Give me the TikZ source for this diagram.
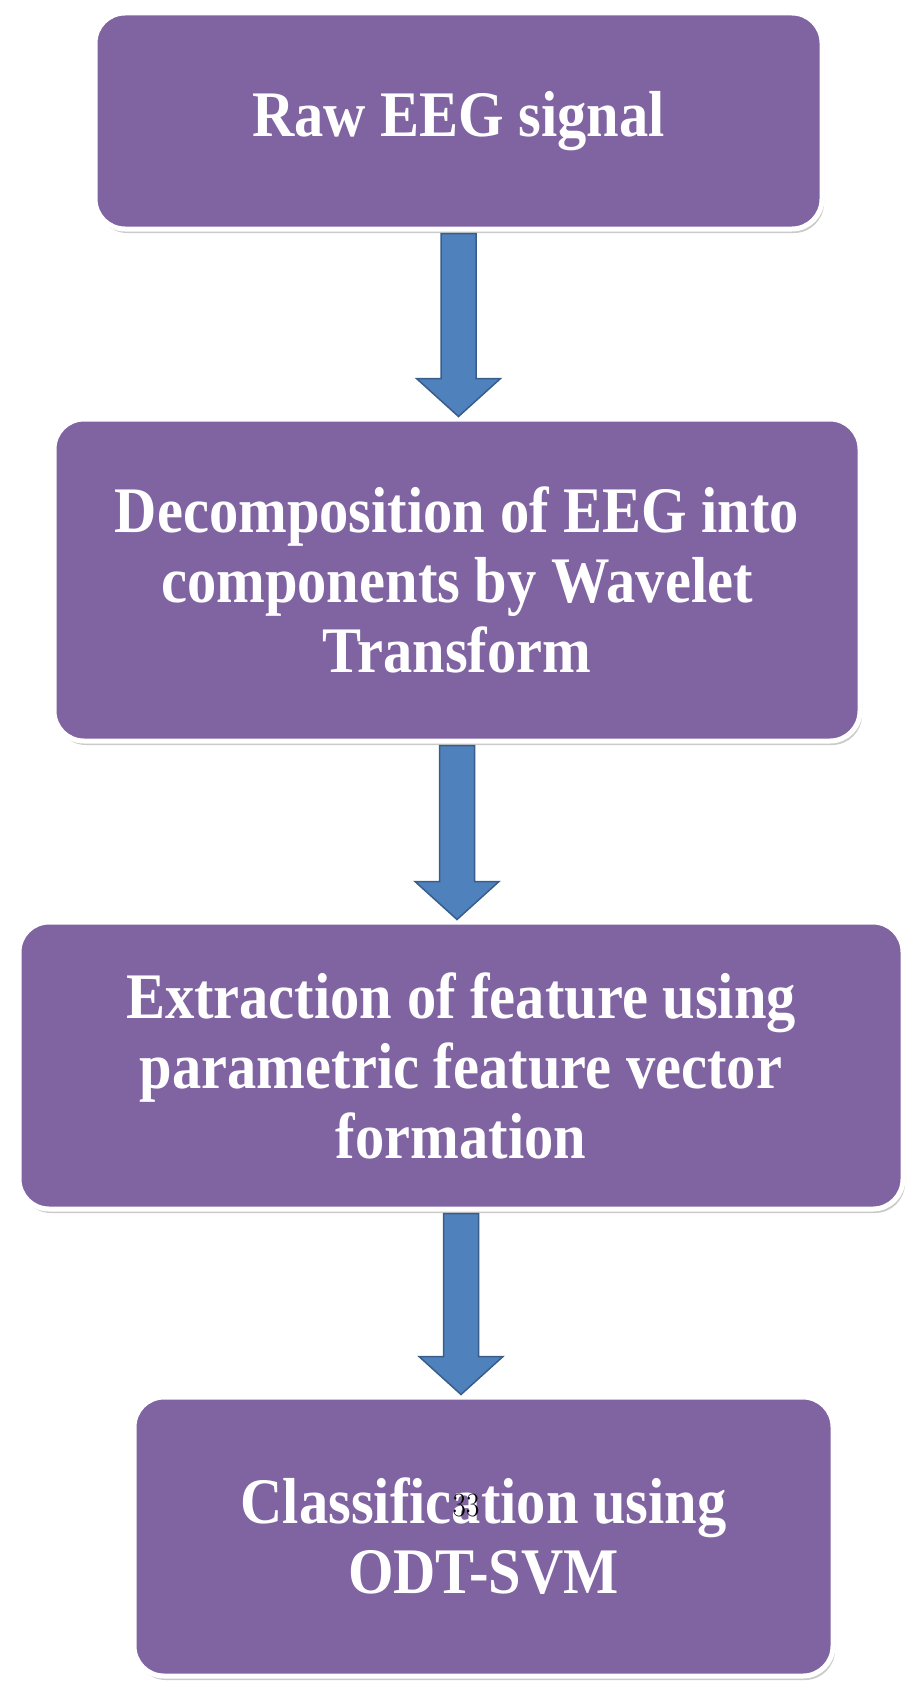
\documentclass[tikz,border=0pt]{standalone}
\usepackage{fontspec}
\usepackage{tikz}
\usetikzlibrary{calc,shadows}
\newfontfamily\boxfont[FakeStretch=0.9]{Liberation Serif}
\definecolor{boxpurple}{RGB}{128,100,162}
\definecolor{arrowblue}{RGB}{79,129,189}
\definecolor{arrowedge}{RGB}{56,93,138}

\tikzset{
  procbox/.style={rounded corners=30pt, fill=boxpurple, draw=white, line width=5pt,
    text=white, align=center, inner sep=0pt,
    font=\boxfont\bfseries\fontsize{65}{70}\selectfont,
    drop shadow={shadow xshift=2pt, shadow yshift=-4pt, opacity=0.35, fill=black!60}},
  flowarrow/.style={fill=arrowblue, draw=arrowedge, line width=1.5pt, line join=miter}
}
% block arrow from the bottom of #1 to the top of #2
\newcommand{\blockarrow}[2]{%
  \draw[flowarrow] let \p1=(#1.south), \p2=(#2.north) in
    (\x1-17.5pt,\y1-2pt) -- (\x1+17.5pt,\y1-2pt) -- (\x1+17.5pt,\y2+38pt)
    -- (\x1+42pt,\y2+38pt) -- (\x1,\y2) -- (\x1-42pt,\y2+38pt)
    -- (\x1-17.5pt,\y2+38pt) -- cycle;}

\begin{document}
\begin{tikzpicture}[x=1pt,y=-1pt]
\useasboundingbox (0,0) rectangle (907,1686);

%Rounded Rect
\node[procbox, minimum width=727pt, minimum height=216pt] (raw) at (458.5,121) {Raw EEG signal};
%Rounded Rect
\node[procbox, minimum width=806pt, minimum height=322pt] (decomp) at (457,580)
  {Decomposition of EEG into\\components by Wavelet\\Transform};
%Rounded Rect
\node[procbox, minimum width=884pt, minimum height=287pt] (extract) at (461,1065.5)
  {Extraction of feature using\\parametric feature vector\\formation};
%Rounded Rect
\node[procbox, minimum width=699pt, minimum height=279pt] (classify) at (483.5,1536.5)
  {Classification using\\ODT-SVM};

%Block Arrows
\blockarrow{raw}{decomp}
\blockarrow{decomp}{extract}
\blockarrow{extract}{classify}

% Text Node
\node[font=\fontsize{34}{34}\selectfont, xscale=0.85, inner sep=0pt] (pagenum) at (466,1506) {33};

\end{tikzpicture}
\end{document}
